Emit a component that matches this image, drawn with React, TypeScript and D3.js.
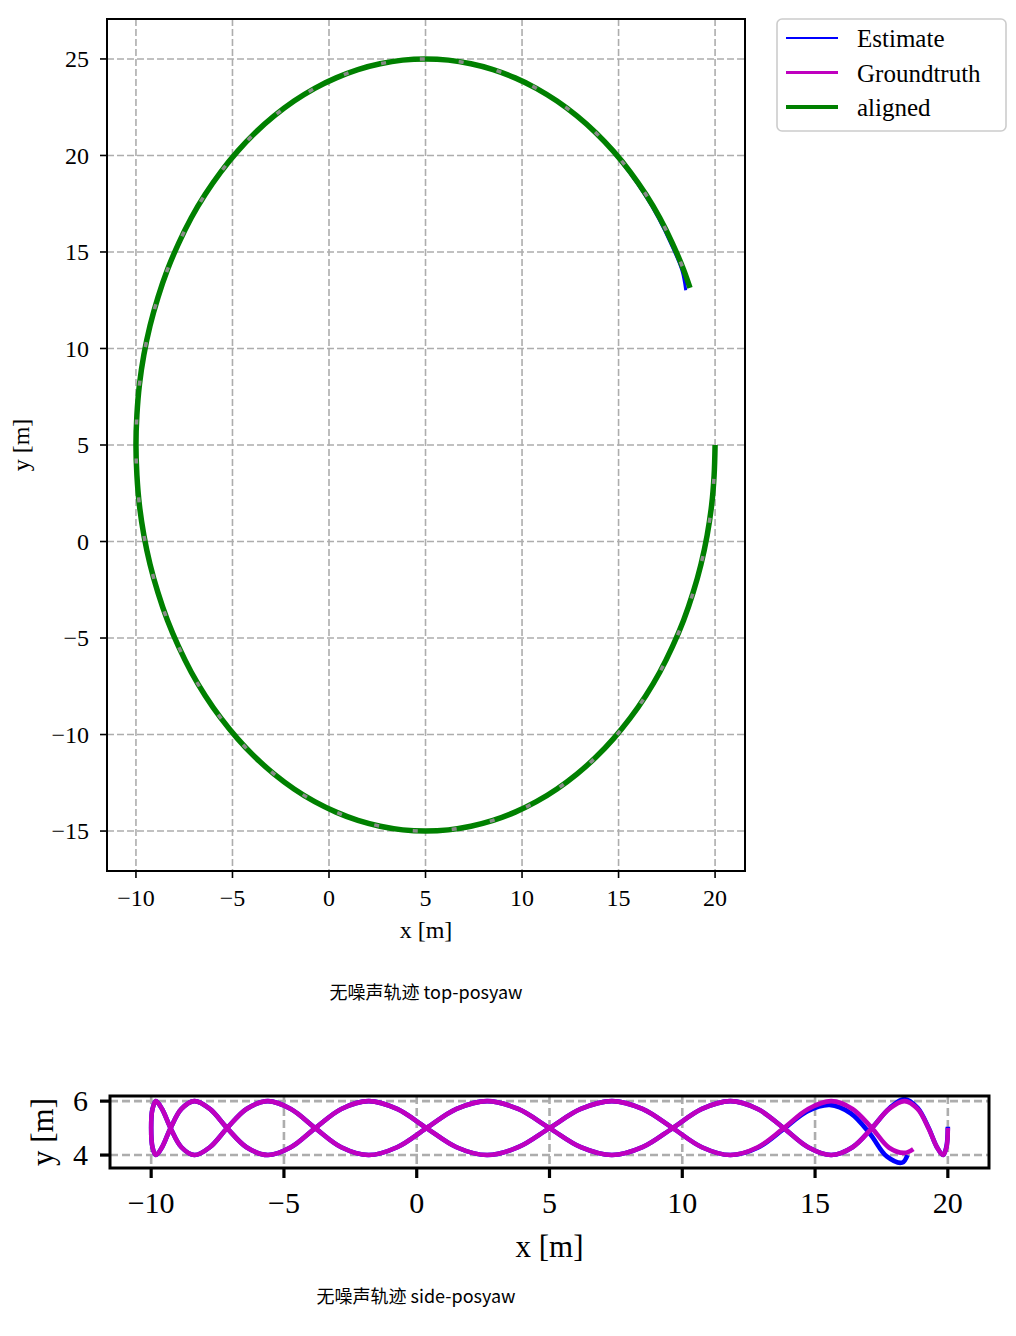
import * as d3 from 'd3'
import React, { useEffect, useRef } from 'react'

// groundtruth trajectory (metres)
const gtX = [
  20.0, 19.95, 19.82, 19.59, 19.27, 18.86, 18.37, 17.79, 17.14, 16.41, 15.61, 14.74, 13.82, 12.84, 11.81, 10.74, 9.64, 8.5, 7.35, 6.18, 5.0,
  3.82, 2.65, 1.5, 0.37, -0.74, -1.81, -2.84, -3.82, -4.74, -5.61, -6.41, -7.14, -7.79, -8.37, -8.86, -9.27, -9.59, -9.82, -9.95, -10.0,
  -9.95, -9.82, -9.59, -9.27, -8.86, -8.37, -7.79, -7.14, -6.41, -5.61, -4.74, -3.82, -2.84, -1.81, -0.74, 0.37, 1.5, 2.65, 3.82, 5.0,
  6.18, 7.35, 8.5, 9.64, 10.74, 11.81, 12.84, 13.82, 14.74, 15.61, 16.41, 17.14, 17.79, 18.37, 18.7
]
const gtY = [
  5.0, 3.43, 1.87, 0.33, -1.18, -2.65, -4.08, -5.45, -6.76, -7.99, -9.14, -10.21, -11.18, -12.05, -12.82, -13.48, -14.02, -14.45, -14.75, -14.94, -15.0,
  -14.94, -14.75, -14.45, -14.02, -13.48, -12.82, -12.05, -11.18, -10.21, -9.14, -7.99, -6.76, -5.45, -4.08, -2.65, -1.18, 0.33, 1.87, 3.43, 5.0,
  6.57, 8.13, 9.67, 11.18, 12.65, 14.08, 15.45, 16.76, 17.99, 19.14, 20.21, 21.18, 22.05, 22.82, 23.48, 24.02, 24.45, 24.75, 24.94, 25.0,
  24.94, 24.75, 24.45, 24.02, 23.48, 22.82, 22.05, 21.18, 20.21, 19.14, 17.99, 16.76, 15.45, 14.08, 13.14
]
const gtZ = [
  5.0, 4.29, 4.0, 4.29, 5.0, 5.71, 6.0, 5.71, 5.0, 4.29, 4.0, 4.29, 5.0, 5.71, 6.0, 5.71, 5.0, 4.29, 4.0, 4.29, 5.0,
  5.71, 6.0, 5.71, 5.0, 4.29, 4.0, 4.29, 5.0, 5.71, 6.0, 5.71, 5.0, 4.29, 4.0, 4.29, 5.0, 5.71, 6.0, 5.71, 5.0,
  4.29, 4.0, 4.29, 5.0, 5.71, 6.0, 5.71, 5.0, 4.29, 4.0, 4.29, 5.0, 5.71, 6.0, 5.71, 5.0, 4.29, 4.0, 4.29, 5.0,
  5.71, 6.0, 5.71, 5.0, 4.29, 4.0, 4.29, 5.0, 5.71, 6.0, 5.71, 5.0, 4.27, 4.08, 4.22
]

// estimate drifts a little over the last part of the run
const estX = [
  20.0, 19.95, 19.82, 19.59, 19.27, 18.86, 18.37, 17.79, 17.14, 16.41, 15.61, 14.74, 13.82, 12.84, 11.81, 10.74, 9.64, 8.5, 7.35, 6.18, 5.0,
  3.82, 2.65, 1.5, 0.37, -0.74, -1.81, -2.84, -3.82, -4.74, -5.61, -6.41, -7.14, -7.79, -8.37, -8.86, -9.27, -9.59, -9.82, -9.95, -10.0,
  -9.95, -9.82, -9.59, -9.27, -8.86, -8.37, -7.79, -7.14, -6.41, -5.61, -4.74, -3.82, -2.84, -1.81, -0.74, 0.37, 1.5, 2.65, 3.82, 5.0,
  6.18, 7.35, 8.5, 9.64, 10.74, 11.81, 12.84, 13.8, 14.7, 15.55, 16.34, 17.06, 17.7, 18.28, 18.48
]
const estY = [
  5.0, 3.43, 1.87, 0.33, -1.18, -2.65, -4.08, -5.45, -6.76, -7.99, -9.14, -10.21, -11.18, -12.05, -12.82, -13.48, -14.02, -14.45, -14.75, -14.94, -15.0,
  -14.94, -14.75, -14.45, -14.02, -13.48, -12.82, -12.05, -11.18, -10.21, -9.14, -7.99, -6.76, -5.45, -4.08, -2.65, -1.18, 0.33, 1.87, 3.43, 5.0,
  6.57, 8.13, 9.67, 11.18, 12.65, 14.08, 15.45, 16.76, 17.99, 19.14, 20.21, 21.18, 22.05, 22.82, 23.48, 24.02, 24.45, 24.75, 24.94, 25.0,
  24.94, 24.75, 24.45, 24.02, 23.48, 22.82, 22.05, 21.18, 20.21, 19.14, 17.99, 16.76, 15.45, 14.05, 13.02
]
const estZ = [
  5.05, 4.33, 4.0, 4.29, 5.02, 5.75, 6.08, 5.73, 5.0, 4.29, 4.0, 4.29, 5.0, 5.71, 6.0, 5.71, 5.0, 4.29, 4.0, 4.29, 5.0,
  5.71, 6.0, 5.71, 5.0, 4.29, 4.0, 4.29, 5.0, 5.71, 6.0, 5.71, 5.0, 4.29, 4.0, 4.29, 5.0, 5.71, 6.0, 5.71, 5.0,
  4.29, 4.0, 4.29, 5.0, 5.71, 6.0, 5.71, 5.0, 4.29, 4.0, 4.29, 5.0, 5.71, 6.0, 5.71, 5.0, 4.29, 4.0, 4.29, 5.0,
  5.71, 6.0, 5.71, 5.0, 4.29, 4.0, 4.27, 4.95, 5.62, 5.86, 5.55, 4.8, 3.95, 3.72, 4.0
]
// aligned estimate lies on the groundtruth
const alignedX = gtX
const alignedY = gtY

const xTicks = [-10, -5, 0, 5, 10, 15, 20]
const yTicks = [-15, -10, -5, 0, 5, 10, 15, 20, 25]
const zTicks = [4, 6]
const seriesNames = ['Estimate', 'Groundtruth', 'aligned']
const captionTop = '无噪声轨迹 top-posyaw'
const captionSide = '无噪声轨迹 side-posyaw'

const serif = '"Liberation Serif", "DejaVu Serif", serif'
const sans = '"Noto Sans CJK SC", "Noto Sans", sans-serif'
const BLUE = '#0000ff'
const MAGENTA = '#bf00bf'
const GREEN = '#008000'
const GRID = '#adadad'

const fmt = (v: number) => (v < 0 ? '\u2212' + Math.abs(v) : String(v))

type Sel = d3.Selection<SVGGElement, unknown, null, undefined>

interface AxStyle {
  grid: number
  dash: string
  tickLen: number
  tickW: number
  font: number
  xLabelDy: number
  yLabelDx: number
}

function drawGridAndTicks(g: Sel, x: d3.ScaleLinear<number, number>, y: d3.ScaleLinear<number, number>,
  xt: number[], yt: number[], st: AxStyle) {
  const [left, right] = x.range()
  const [bottom, top] = y.range()

  g.append('g').selectAll('line').data(xt).join('line')
    .attr('x1', d => x(d)).attr('x2', d => x(d))
    .attr('y1', top).attr('y2', bottom)
    .attr('stroke', GRID).attr('stroke-width', st.grid).attr('stroke-dasharray', st.dash)
  g.append('g').selectAll('line').data(yt).join('line')
    .attr('y1', d => y(d)).attr('y2', d => y(d))
    .attr('x1', left).attr('x2', right)
    .attr('stroke', GRID).attr('stroke-width', st.grid).attr('stroke-dasharray', st.dash)

  g.append('g').selectAll('line').data(xt).join('line')
    .attr('x1', d => x(d)).attr('x2', d => x(d))
    .attr('y1', bottom).attr('y2', bottom + st.tickLen)
    .attr('stroke', '#000').attr('stroke-width', st.tickW)
  g.append('g').selectAll('line').data(yt).join('line')
    .attr('y1', d => y(d)).attr('y2', d => y(d))
    .attr('x1', left - st.tickLen).attr('x2', left)
    .attr('stroke', '#000').attr('stroke-width', st.tickW)

  g.append('g').selectAll('text').data(xt).join('text')
    .attr('x', d => x(d)).attr('y', bottom + st.xLabelDy)
    .attr('text-anchor', 'middle')
    .attr('font-family', serif).attr('font-size', st.font)
    .text(d => fmt(d))
  g.append('g').selectAll('text').data(yt).join('text')
    .attr('x', left - st.yLabelDx).attr('y', d => y(d)).attr('dy', '0.34em')
    .attr('text-anchor', 'end')
    .attr('font-family', serif).attr('font-size', st.font)
    .text(d => fmt(d))
}

function drawFrame(g: Sel, x: d3.ScaleLinear<number, number>, y: d3.ScaleLinear<number, number>, w: number) {
  const [left, right] = x.range()
  const [bottom, top] = y.range()
  g.append('rect')
    .attr('x', left).attr('y', top)
    .attr('width', right - left).attr('height', bottom - top)
    .attr('fill', 'none').attr('stroke', '#000').attr('stroke-width', w)
}

export default function App() {
  const svgRef = useRef<SVGSVGElement>(null)

  useEffect(() => {
    if (!svgRef.current) return
    const svg = d3.select(svgRef.current)
    svg.selectAll('*').remove()
    const idx = d3.range(gtX.length)

    // ---- top view (x / y) ----
    const top = svg.append('g')
    const xTop = d3.scaleLinear().domain([-11.5, 21.55]).range([107, 745])
    const yTop = d3.scaleLinear().domain([-17.07, 27.07]).range([871, 19])

    drawGridAndTicks(top, xTop, yTop, xTicks, yTicks, {
      grid: 1.6, dash: '7 3', tickLen: 7, tickW: 1.6, font: 24, xLabelDy: 35, yLabelDx: 18
    })

    const lineTop = (xs: number[], ys: number[]) => d3.line<number>()
      .x(i => xTop(xs[i])).y(i => yTop(ys[i]))
      .curve(d3.curveCatmullRom.alpha(0.5))(idx)

    top.append('path').attr('d', lineTop(estX, estY))
      .attr('fill', 'none').attr('stroke', BLUE).attr('stroke-width', 3)
    top.append('path').attr('d', lineTop(alignedX, alignedY))
      .attr('fill', 'none').attr('stroke', GREEN).attr('stroke-width', 5.5)
    top.append('path').attr('d', lineTop(gtX, gtY))
      .attr('fill', 'none').attr('stroke', '#8a8a8a').attr('stroke-width', 3.5)
      .attr('stroke-dasharray', '5 34').attr('stroke-dashoffset', -34)

    drawFrame(top, xTop, yTop, 2)

    top.append('text').attr('x', 426).attr('y', 938)
      .attr('text-anchor', 'middle').attr('font-family', serif).attr('font-size', 24)
      .text('x [m]')
    top.append('text').attr('transform', 'translate(29,445) rotate(-90)')
      .attr('text-anchor', 'middle').attr('font-family', serif).attr('font-size', 24)
      .text('y [m]')

    // legend
    const legendColors = [BLUE, MAGENTA, GREEN]
    const legendWidths = [2.2, 3, 4]
    const lg = svg.append('g')
    lg.append('rect').attr('x', 777).attr('y', 19).attr('width', 229).attr('height', 112)
      .attr('rx', 5).attr('fill', '#fff').attr('stroke', '#cccccc').attr('stroke-width', 1.6)
    seriesNames.forEach((name, i) => {
      const yy = 38 + i * 34.5
      lg.append('line').attr('x1', 786).attr('x2', 838).attr('y1', yy).attr('y2', yy)
        .attr('stroke', legendColors[i]).attr('stroke-width', legendWidths[i])
      lg.append('text').attr('x', 857).attr('y', yy + 9)
        .attr('font-family', serif).attr('font-size', 25).text(name)
    })

    svg.append('text').attr('x', 426).attr('y', 999)
      .attr('text-anchor', 'middle').attr('font-family', sans).attr('font-size', 18)
      .text(captionTop)

    // ---- side view (x / z) ----
    const side = svg.append('g')
    const xSide = d3.scaleLinear().domain([-11.55, 21.55]).range([110, 989])
    const zSide = d3.scaleLinear().domain([3.52, 6.19]).range([1168, 1096])

    drawGridAndTicks(side, xSide, zSide, xTicks, zTicks, {
      grid: 2.6, dash: '8 4', tickLen: 10, tickW: 3.2, font: 30, xLabelDy: 45, yLabelDx: 22
    })

    const lineSide = (xs: number[], zs: number[]) => d3.line<number>()
      .x(i => xSide(xs[i])).y(i => zSide(zs[i]))
      .curve(d3.curveCatmullRom.alpha(0.5))(idx)

    side.append('path').attr('d', lineSide(estX, estZ))
      .attr('fill', 'none').attr('stroke', BLUE).attr('stroke-width', 4.6)
      .attr('stroke-linejoin', 'round')
    side.append('path').attr('d', lineSide(gtX, gtZ))
      .attr('fill', 'none').attr('stroke', MAGENTA).attr('stroke-width', 4.6)
      .attr('stroke-linejoin', 'round')

    drawFrame(side, xSide, zSide, 3)

    side.append('text').attr('x', 549.5).attr('y', 1257)
      .attr('text-anchor', 'middle').attr('font-family', serif).attr('font-size', 31)
      .text('x [m]')
    side.append('text').attr('transform', 'translate(53,1132) rotate(-90)')
      .attr('text-anchor', 'middle').attr('font-family', serif).attr('font-size', 31)
      .text('y [m]')

    svg.append('text').attr('x', 416).attr('y', 1303)
      .attr('text-anchor', 'middle').attr('font-family', sans).attr('font-size', 18)
      .text(captionSide)
  }, [])

  return (
    <svg
      ref={svgRef}
      width={1016}
      height={1336}
      style={{ position: 'absolute', left: 0, top: 0, display: 'block', background: '#fff' }}
    />
  )
}
